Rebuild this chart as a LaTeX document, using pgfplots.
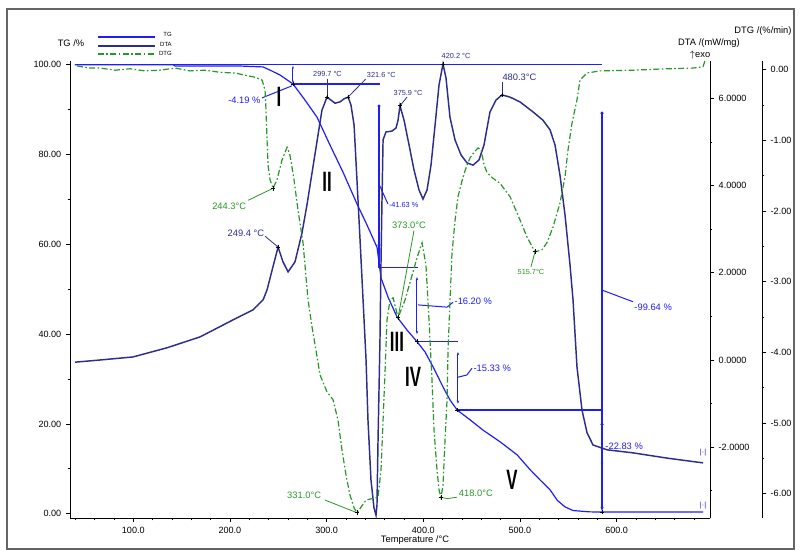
\documentclass[border=0pt]{standalone}
\usepackage{fontspec}
\setmainfont{Liberation Sans}
\usepackage{pgfplots}
\pgfplotsset{compat=1.18}
\usetikzlibrary{arrows.meta}
\definecolor{tgblue}{RGB}{30,30,245}
\definecolor{dtanavy}{RGB}{45,45,140}
\definecolor{dtggreen}{RGB}{40,150,40}
\definecolor{framegray}{RGB}{100,100,100}
\pgfplotsset{
 base/.style={at={(52.5pt,-388.5pt)}, anchor=south west, scale only axis,
   width=480pt, height=342.75pt, xmin=34.55, xmax=696.6, clip=false,
   tick label style={font=\fontsize{6.8}{8}\selectfont},
   /pgf/number format/assume math mode=true,
   tick align=outside, major tick length=3pt, minor tick length=1.8pt,
   every tick/.style={black, line width=0.5pt},
   axis line style={black, line width=0.7pt}},
}
\tikzset{ann/.style={font=\fontsize{7}{8}\selectfont, inner sep=0.5pt},
  sann/.style={font=\fontsize{5.5}{6}\selectfont, inner sep=0.5pt},
  rom/.style={font=\fontsize{21}{21}\selectfont\bfseries, xscale=0.6, inner sep=0pt},
  dtgdash/.style={dash pattern=on 4.5pt off 1.8pt on 1.2pt off 1.8pt},
  tgl/.style={draw=tgblue, line width=1.0pt},
  tgc/.style={draw=tgblue, line width=0.75pt}}
\begin{document}
\begin{tikzpicture}
\path[use as bounding box] (0,0) rectangle (600.75pt,-412.5pt);
\draw[framegray, line width=1.5pt] (5.25pt,-6.75pt) rectangle (595.5pt,-411.75pt);

% ---------------- TG axis ----------------
\begin{axis}[base, ymin=-0.96, ymax=100.82,
  axis x line*=bottom, axis y line*=left,
  xtick={100,200,...,600}, minor xtick={40,60,...,680},
  ytick={0,20,...,100}, minor ytick={10,30,...,90},
  xticklabel style={/pgf/number format/.cd,fixed,fixed zerofill,precision=1},
  yticklabel style={/pgf/number format/.cd,fixed,fixed zerofill,precision=2}]
\addplot[tgblue, line width=0.9pt] coordinates {
(39.7,100.0) (141.2,100.0) (143.2,99.7) (210.4,99.7) (234.2,99.5) (241.4,98.8)
(251.8,97.7) (265.3,95.7) (277.7,92.1) (290.1,88.3) (303.5,82.1) (316.9,76.1)
(331.4,69.0) (341.8,64.3) (352.2,59.3) (354.2,56.0) (356.3,52.5) (363.6,48.2)
(372.9,43.8) (383.2,40.9) (393.6,38.3) (401.9,36.0) (410.1,32.7) (420.5,28.2)
(427.7,25.3) (435.0,23.1) (448.4,20.9) (461.9,18.6) (479.5,16.0) (497.1,13.1)
(510.5,9.8) (520.9,7.5) (531.2,5.3) (538.5,3.0) (546.7,1.5) (555.0,0.7)
(572.6,0.4) (689.4,0.36)};
% annotations
\draw[tgl] (39.7,100) -- (584.9,100);
\draw[tgc, {Stealth[length=2pt]}-{Stealth[length=2pt]}] (265.2,99.7) -- (265.2,95.9);
\draw[tgl] (265.2,95.7) -- (355.2,95.7);
\draw[tgc] (233.2,92.6) -- (264.2,95.3);
\node[tgblue, ann, anchor=east] at (232.5,92.1) {-4.19 \%};
\draw[tgl] (354.2,90.8) -- (354.2,54.9);
\fill[tgblue] (354.2,90.8) circle (1.3pt) (354.2,59.8) circle (1.3pt);
\draw[tgc] (354.2,73.4) -- (363.4,69.0);
\node[tgblue, sann, anchor=west] at (363.6,68.8) {-41.63 \%};
\draw[tgl] (353.2,54.9) -- (394.6,54.9);
\draw[tgc, {Stealth[length=2.5pt]}-{Stealth[length=2.5pt]}] (393.5,52.7) -- (393.5,40.0);
\draw[tgc] (394.6,46.5) -- (424.6,46.0) -- (430.8,47.1);
\node[tgblue, ann, anchor=west] at (431.5,47.4) {-16.20 \%};
\draw[tgl] (393.5,38.3) -- (435.9,38.3);
\draw[tgc, {Stealth[length=2.5pt]}-{Stealth[length=2.5pt]}] (435.9,36.0) -- (435.9,24.5);
\draw[tgc] (435.9,30.4) -- (445.2,30.9) -- (450.4,32.4);
\node[tgblue, ann, anchor=west] at (451,32.4) {-15.33 \%};
\draw[tgl] (435.0,23.1) -- (584.9,23.1);
\draw[tgl, -{Stealth[length=3pt]}] (584.9,89.2) -- (584.9,0.6);
\draw[tgc, -{Stealth[length=2.5pt]}] (584.9,12.5) -- (584.9,10.6);
\fill[tgblue] (584.9,89.2) circle (1.3pt) (584.9,19.9) circle (1.3pt);
\draw[tgc] (584.9,49.8) -- (617.0,47.2);
\node[tgblue, ann, anchor=west] at (617.5,46.0) {-99.64 \%};
\node[tgblue, ann, anchor=west] at (587.5,15.1) {-22.83 \%};
\node[tgblue, sann] at (689.4,13.7) {|\textperiodcentered|};
\node[tgblue, sann] at (689.4,1.9) {|\textperiodcentered|};
\node[rom] at (250.8,92.8) {I};
\node[rom] at (300.4,73.8) {II};
\node[rom] at (372.8,38.3) {III};
\node[rom] at (389.4,30.4) {IV};
\node[rom] at (491.8,7.5) {V};
\addplot[only marks, mark=+, mark size=1.8pt, black, line width=0.6pt] coordinates {
(265.3,95.7) (393.6,38.3) (435.0,23.1) (584.9,0.36)};
\end{axis}

% ---------------- DTA axis ----------------
\begin{axis}[base, ymin=-3.624, ymax=6.858,
  axis x line=none, axis y line*=right,
  ytick={-2,0,...,6}, minor ytick={-3,-1,1,3,5},
  yticklabel style={/pgf/number format/.cd,fixed,fixed zerofill,precision=4}]
\addplot[dtanavy, line width=1.1pt] coordinates {
(39.7,-0.05) (65.6,0) (99.7,0.07) (134.9,0.28) (169.1,0.53) (203.2,0.92)
(223.9,1.15) (234.3,1.38) (238.4,1.61) (243.6,2.06) (249.8,2.59) (254.9,2.25)
(260.1,2.02) (267.3,2.25) (274.5,2.91) (279.7,3.56) (285.9,4.43) (291.1,5.16)
(295.2,5.73) (300.4,6.03) (304.5,5.96) (308.7,5.89) (313.9,5.92) (318.0,5.99)
(322.2,6.03) (325.2,5.85) (328.4,5.39) (331.4,4.13) (334.6,2.75) (337.7,1.38)
(340.8,0) (342.8,-1.38) (345.9,-2.75) (349.0,-3.39) (351.1,-3.56) (352.1,-3.33)
(353.2,-1.83) (355.2,0.46) (356.3,2.29) (357.3,3.67) (358.4,5.05) (361.4,5.23)
(367.6,5.25) (371.8,5.32) (373.9,5.50) (375.9,5.83) (380.1,5.50) (385.3,4.93)
(390.4,4.36) (395.6,3.90) (399.7,3.69) (403.9,3.90) (408.0,4.47) (412.2,5.39)
(416.3,6.31) (420.4,6.79) (423.5,6.47) (427.6,5.57) (432.8,5.05) (439.1,4.70)
(445.3,4.52) (451.5,4.47) (457.7,4.59) (462.8,4.93) (469.0,5.69) (475.2,5.96)
(481.4,6.08) (489.7,6.03) (500.0,5.92) (513.5,5.69) (523.8,5.50) (531.1,5.28)
(536.3,4.93) (541.4,4.24) (546.6,3.33) (551.8,2.18) (554.9,1.38) (559.0,-0.16)
(564.2,-1.15) (569.4,-1.67) (575.6,-1.95) (590.1,-2.06) (617.0,-2.13)
(652.1,-2.25) (689.4,-2.36)};
\addplot[only marks, mark=+, mark size=1.8pt, black, line width=0.6pt] coordinates {
(249.8,2.59) (300.4,6.03) (322.2,6.03) (375.9,5.83) (420.4,6.79) (481.4,6.08)};
\draw[dtanavy, line width=0.6pt] (236.3,2.84) -- (249.8,2.59);
\node[dtanavy, ann, anchor=east] at (236.3,2.91) {249.4 °C};
\draw[dtanavy, line width=0.6pt] (300.4,6.44) -- (300.4,6.03);
\node[dtanavy, sann] at (300.9,6.56) {299.7 °C};
\draw[dtanavy, line width=0.6pt] (322.2,6.03) -- (340.3,6.44);
\node[dtanavy, sann, anchor=west] at (340.8,6.54) {321.6 °C};
\draw[dtanavy, line width=0.6pt] (375.9,5.83) -- (383.2,6.03);
\node[dtanavy, sann] at (384.2,6.12) {375.9 °C};
\node[dtanavy, sann] at (433.9,6.97) {420.2 °C};
\draw[dtanavy, line width=0.6pt] (481.4,6.38) -- (481.4,6.08);
\node[dtanavy, ann] at (499.5,6.49) {480.3°C};
\end{axis}

% ---------------- DTG curve axis ----------------
\begin{axis}[base, ymin=-6.344, ymax=0.120, hide axis]
\addplot[dtggreen, line width=0.9pt, dtgdash] coordinates {
(41.8,0.05) (55.2,0.02) (65.6,0.02) (81.1,-0.01) (96.6,0.01) (112.1,-0.02)
(127.7,-0.01) (143.2,0.02) (158.7,-0.02) (174.2,-0.01) (189.8,-0.04) (205.3,-0.05)
(215.6,-0.08) (226.0,-0.11) (233.2,-0.15) (236.3,-0.29) (237.3,-0.57) (238.4,-1.00)
(239.4,-1.35) (241.5,-1.56) (244.6,-1.68) (248.7,-1.56) (253.9,-1.28) (259.1,-1.10)
(262.1,-1.21) (266.3,-1.56) (270.4,-1.99) (275.6,-2.45) (280.8,-3.26) (284.9,-3.64)
(289.0,-3.97) (293.2,-4.32) (300.4,-4.56) (306.6,-4.67) (311.8,-4.96) (315.9,-5.38)
(320.1,-5.74) (324.2,-6.02) (328.4,-6.20) (331.5,-6.27) (336.6,-6.17) (340.8,-6.09)
(346.9,-6.07) (353.2,-6.05) (356.3,-5.66) (358.4,-4.96) (360.5,-4.25) (362.5,-3.54)
(365.6,-3.26) (368.8,-3.23) (373.9,-3.51) (381.1,-3.26) (388.4,-2.91) (394.5,-2.62)
(398.7,-2.45) (402.8,-2.77) (405.9,-3.54) (409.0,-4.39) (411.1,-5.10) (414.2,-5.66)
(416.3,-5.95) (418.3,-6.05) (420.4,-5.88) (422.5,-5.24) (424.6,-4.67) (425.6,-3.97)
(427.7,-3.26) (429.7,-2.60) (432.9,-2.13) (435.9,-1.80) (441.1,-1.52) (445.3,-1.35)
(448.4,-1.25) (452.5,-1.17) (456.7,-1.11) (459.8,-1.14) (462.9,-1.35) (466.0,-1.46)
(471.2,-1.53) (479.4,-1.61) (489.8,-1.80) (500.1,-2.13) (507.3,-2.37) (515.6,-2.58)
(522.8,-2.55) (527.9,-2.45) (534.2,-2.23) (541.4,-1.89) (546.6,-1.52) (549.7,-1.14)
(553.8,-0.76) (559.0,-0.43) (562.1,-0.15) (569.4,-0.05) (582.8,-0.02) (616.9,-0.01)
(652.1,0.01) (679.0,0.02) (689.4,0.04) (691.5,0.13)};
\addplot[only marks, mark=+, mark size=1.8pt, black, line width=0.6pt] coordinates {
(244.6,-1.68) (331.5,-6.27) (373.9,-3.51) (418.3,-6.05) (515.6,-2.58)};
\draw[dtggreen, line width=0.6pt] (218.9,-1.85) -- (244.6,-1.68);
\node[dtggreen, ann, anchor=east] at (217.7,-1.94) {244.3°C};
\draw[dtggreen, line width=0.6pt] (298.3,-6.09) -- (331.5,-6.27);
\node[dtggreen, ann, anchor=east] at (295.2,-6.02) {331.0°C};
\draw[dtggreen, line width=0.6pt] (390.4,-2.28) -- (373.9,-3.51);
\node[dtggreen, ann] at (385.2,-2.20) {373.0°C};
\draw[dtggreen, line width=0.6pt] (418.3,-6.05) -- (424.6,-6.07) -- (434.9,-6.05);
\node[dtggreen, ann, anchor=west] at (435.9,-5.99) {418.0°C};
\draw[dtggreen, line width=0.6pt] (515.6,-2.58) -- (511.4,-2.79);
\node[dtggreen, sann] at (511.4,-2.86) {515.7°C};
\end{axis}

% ---------------- DTG tick axis ----------------
\begin{axis}[base, at={(91.5pt,-388.5pt)}, ymin=-6.344, ymax=0.120,
  axis x line=none, axis y line*=right,
  ytick={-6,-5,...,0}, minor ytick={-5.5,-4.5,...,-0.5},
  yticklabel style={/pgf/number format/.cd,fixed,fixed zerofill,precision=2}]
\end{axis}

% ---------------- outer texts and legend ----------------
\begin{scope}[x=0.75pt, y=-0.75pt]
\draw[tgblue, line width=0.9pt] (98,37) -- (155,37);
\draw[dtanavy, line width=0.9pt] (98,46) -- (155,46);
\draw[dtggreen, line width=0.9pt, dtgdash] (98,54) -- (155,54);
\node[anchor=east, font=\fontsize{4.5}{5}\selectfont, inner sep=0pt] at (172,34) {TG};
\node[anchor=east, font=\fontsize{4.5}{5}\selectfont, inner sep=0pt] at (172,44) {DTA};
\node[anchor=east, font=\fontsize{4.5}{5}\selectfont, inner sep=0pt] at (172,53) {DTG};
\node[font=\fontsize{7}{8}\selectfont] at (71,43) {TG /\%};
\node[font=\fontsize{7}{8}\selectfont] at (709,43) {DTA /(mW/mg)};
\node[font=\fontsize{7}{8}\selectfont] at (700,55) {$\uparrow$exo};
\node[font=\fontsize{7}{8}\selectfont] at (763,31) {DTG /(\%/min)};
\node[font=\fontsize{7}{8}\selectfont] at (415,540) {Temperature /°C};
\end{scope}
\end{tikzpicture}
\end{document}
